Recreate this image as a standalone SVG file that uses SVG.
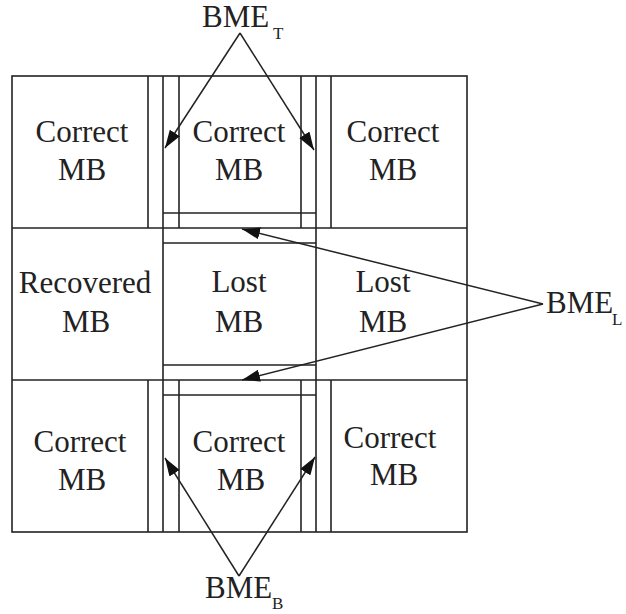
<svg xmlns="http://www.w3.org/2000/svg" width="626" height="614" viewBox="0 0 626 614">
  <style>
    .grid { stroke: #222; stroke-width: 1.6; fill: none; }
    text { font-family: "Liberation Serif", "Times New Roman", "DejaVu Serif", serif; font-size: 31px; fill: #222; }
    .lbl { text-anchor: middle; }
    .sub { font-size: 17px; }
    .arrow { stroke: #222; stroke-width: 1.5; fill: none; marker-end: url(#head); }
  </style>
  <defs>
    <marker id="head" markerUnits="userSpaceOnUse" markerWidth="20" markerHeight="13" refX="18" refY="6" orient="auto">
      <path d="M0,0 L18,6 L0,12 Z" fill="#111"/>
    </marker>
  </defs>
  <rect width="626" height="614" fill="#fff"/>

  <!-- macroblock grid -->
  <g id="grid" class="grid">
    <rect x="12" y="76" width="455" height="456"/>
    <line x1="12" y1="228" x2="467" y2="228"/>
    <line x1="12" y1="380" x2="467" y2="380"/>
    <line x1="163" y1="76" x2="163" y2="532"/>
    <line x1="316" y1="76" x2="316" y2="532"/>
    <!-- boundary strips of the upper neighbour -->
    <line x1="148" y1="76" x2="148" y2="228"/>
    <line x1="179" y1="76" x2="179" y2="228"/>
    <line x1="301" y1="76" x2="301" y2="228"/>
    <line x1="331" y1="76" x2="331" y2="228"/>
    <line x1="163" y1="213" x2="316" y2="213"/>
    <!-- boundary strips of the lost block -->
    <line x1="163" y1="243" x2="316" y2="243"/>
    <line x1="163" y1="365" x2="316" y2="365"/>
    <!-- boundary strips of the lower neighbour -->
    <line x1="163" y1="395" x2="316" y2="395"/>
    <line x1="148" y1="380" x2="148" y2="532"/>
    <line x1="179" y1="380" x2="179" y2="532"/>
    <line x1="301" y1="380" x2="301" y2="532"/>
    <line x1="331" y1="380" x2="331" y2="532"/>
  </g>

  <!-- cells -->
  <g id="mb-top-left"><text class="lbl" x="82" y="142">Correct</text><text class="lbl" x="82" y="180">MB</text></g>
  <g id="mb-top-center"><text class="lbl" x="239" y="142">Correct</text><text class="lbl" x="239" y="180">MB</text></g>
  <g id="mb-top-right"><text class="lbl" x="393" y="142">Correct</text><text class="lbl" x="393" y="180">MB</text></g>
  <g id="mb-mid-left"><text class="lbl" x="85" y="293">Recovered</text><text class="lbl" x="86" y="332">MB</text></g>
  <g id="mb-mid-center"><text class="lbl" x="239" y="292">Lost</text><text class="lbl" x="239" y="332">MB</text></g>
  <g id="mb-mid-right"><text class="lbl" x="383" y="292">Lost</text><text class="lbl" x="383" y="332">MB</text></g>
  <g id="mb-bot-left"><text class="lbl" x="80" y="452">Correct</text><text class="lbl" x="82" y="490">MB</text></g>
  <g id="mb-bot-center"><text class="lbl" x="239" y="452">Correct</text><text class="lbl" x="241" y="490">MB</text></g>
  <g id="mb-bot-right"><text class="lbl" x="390" y="448">Correct</text><text class="lbl" x="394" y="485">MB</text></g>

  <!-- labels -->
  <g id="bme-t"><text x="202" y="27">BME<tspan class="sub" x="273" y="39">T</tspan></text></g>
  <g id="bme-l"><text x="546" y="313">BME<tspan class="sub" x="612" y="325">L</tspan></text></g>
  <g id="bme-b"><text x="205" y="598">BME<tspan class="sub" x="272" y="609">B</tspan></text></g>

  <!-- connectors -->
  <g id="connectors">
    <line class="arrow" x1="240" y1="33" x2="165" y2="148"/>
    <line class="arrow" x1="240" y1="33" x2="314" y2="150"/>
    <line class="arrow" x1="239" y1="576" x2="165" y2="458"/>
    <line class="arrow" x1="239" y1="576" x2="315" y2="457"/>
    <line class="arrow" x1="543" y1="304" x2="242" y2="229"/>
    <line class="arrow" x1="543" y1="304" x2="242" y2="380"/>
  </g>
</svg>
